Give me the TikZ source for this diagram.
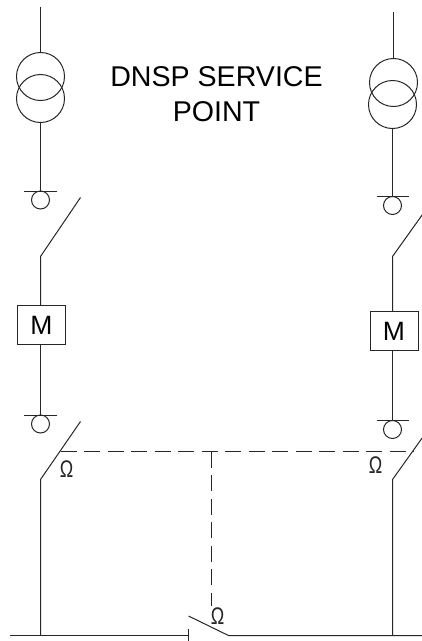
\documentclass[tikz,border=0pt]{standalone}
\usepackage{fontspec}
\setmainfont{Liberation Sans}
\definecolor{ink}{gray}{0.15}
\tikzset{
  wire/.style={draw=ink,line width=1pt},
  linkage/.style={draw=ink,line width=1pt,dash pattern=on 16pt off 7.5pt},
  ring/.style={circle,draw=ink,line width=1pt,inner sep=0pt,minimum size=48pt},
  smallring/.style={circle,draw=ink,line width=1pt,inner sep=0pt,minimum size=18pt},
  meterbox/.style={rectangle,draw=ink,line width=1pt,inner sep=0pt,minimum width=48pt,minimum height=39pt,text=black,font=\fontsize{26.5}{26.5}\selectfont},
  omega/.style={inner sep=0pt,text=ink,xscale=0.75,font=\fontsize{24}{24}\selectfont},
  title/.style={inner sep=0pt,align=center,text=black,font=\fontsize{28.6}{35}\selectfont}
}
\begin{document}
\begin{tikzpicture}[x=1pt,y=-1pt]
\useasboundingbox (-0.5,-0.5) rectangle (421.5,640.5);
% left feeder
\coordinate (ltop) at (40,6);
\node[ring] (lt1) at (40,76) {};
\node[ring] (lt2) at (40,98) {};
\coordinate (lb1a) at (24,191); \coordinate (lb1b) at (56,191); \coordinate (lb1) at (40,191);
\node[smallring] (lc1) at (40,199.5) {};
\coordinate (ls1a) at (80,197); \coordinate (ls1b) at (40,256);
\node[meterbox] (lm) at (41,324.5) {M};
\coordinate (lb2a) at (24,414.5); \coordinate (lb2b) at (56,414.5); \coordinate (lb2) at (40,414.5);
\node[smallring] (lc2) at (40,423.5) {};
\coordinate (ls2a) at (80,421); \coordinate (ls2b) at (40,479);
\coordinate (lbus) at (40,635);
\draw[wire] (ltop) -- (lt1.north);
\draw[wire] (lt2.south) -- (lb1);
\draw[wire] (lb1a) -- (lb1b);
\draw[wire] (ls1a) -- (ls1b) -- (ls1b |- lm.north);
\draw[wire] (lm.south -| lb2) -- (lb2);
\draw[wire] (lb2a) -- (lb2b);
\draw[wire] (ls2a) -- (ls2b) -- (lbus);
% right feeder
\coordinate (rtop) at (393,11);
\node[ring] (rt1) at (393,82) {};
\node[ring] (rt2) at (392,104) {};
\coordinate (rb1a) at (376,196); \coordinate (rb1b) at (408,196); \coordinate (rb1) at (392,196);
\node[smallring] (rc1) at (392,205) {};
\coordinate (rs1a) at (422,214); \coordinate (rs1b) at (392,256);
\node[meterbox] (rm) at (393.5,330.5) {M};
\coordinate (rb2a) at (376,420); \coordinate (rb2b) at (408,420); \coordinate (rb2) at (392,420);
\node[smallring] (rc2) at (392,429) {};
\coordinate (rs2a) at (422,437); \coordinate (rs2b) at (392,479);
\coordinate (rbus) at (392,635);
\draw[wire] (rtop) -- (rt1.north);
\draw[wire] (rt2.south) -- (rb1);
\draw[wire] (rb1a) -- (rb1b);
\draw[wire] (rs1a) -- (rs1b) -- (rs1b |- rm.north);
\draw[wire] (rm.south -| rb2) -- (rb2);
\draw[wire] (rb2a) -- (rb2b);
\draw[wire] (rs2a) -- (rs2b) -- (rbus);
% bus and bus-coupler
\coordinate (busl) at (10,635);
\coordinate (tickt) at (188,628); \coordinate (tickb) at (188,641); \coordinate (tickm) at (188,635);
\coordinate (cs1) at (188,615.5); \coordinate (cs2) at (228,635);
\coordinate (busr) at (422,635);
\draw[wire] (busl) -- (tickm);
\draw[wire] (tickt) -- (tickb);
\draw[wire] (cs1) -- (cs2) -- (busr);
% mechanical linkage
\coordinate (dl) at (60,451); \coordinate (dr) at (413,451);
\coordinate (dt) at (211,451); \coordinate (db) at (211,605);
\draw[linkage] (dl) -- (dr);
\draw[linkage] (dt) -- (db);
% interlock symbols
\node[omega] (o1) at (66,469) {Ω};
\node[omega] (o2) at (375,464.5) {Ω};
\node[omega] (o3) at (217,616) {Ω};
% title
\node[title] (t) at (216,94) {DNSP SERVICE\\POINT};
\end{tikzpicture}
\end{document}
